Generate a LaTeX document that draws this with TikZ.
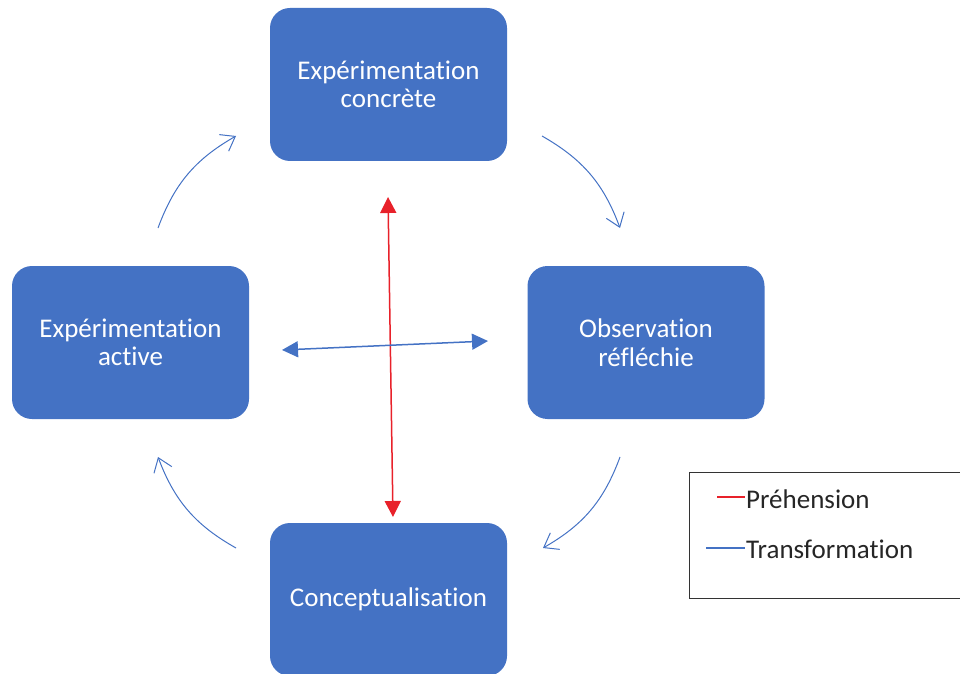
\documentclass[tikz,border=0pt]{standalone}
\usepackage{fontspec}
\setmainfont{Carlito}[Ligatures=NoCommon]
\usetikzlibrary{arrows.meta}

\definecolor{boxblue}{HTML}{4472C4}
\definecolor{prehred}{HTML}{E8212A}

\tikzstyle{stagenode}=[rectangle,
                       rounded corners=20pt,
                       fill=boxblue,
                       text=white,
                       minimum width=237pt,
                       minimum height=153pt,
                       align=center,
                       font=\fontsize{27}{28.5}\selectfont]
\tikzstyle{cyclearrow}=[draw=boxblue,
                        line width=1pt,
                        -{Straight Barb[length=13pt,width=19pt]},
                        bend left=20]
\tikzstyle{crossarrow}=[line width=1.5pt,
                        {Triangle[length=16pt,width=16pt]}-{Triangle[length=16pt,width=16pt]}]
\tikzstyle{legendtext}=[anchor=west,
                        inner sep=1pt,
                        text=black!85,
                        font=\fontsize{27}{28.5}\selectfont]

\begin{document}
\begin{tikzpicture}[x=1pt,y=1pt]
    \useasboundingbox (0,0) rectangle (960,673);

    % the four stages
    \node [stagenode] (concrete) at (388.5,588.5) {Expérimentation\\concrète};
    \node [stagenode] (active) at (130.5,330.5) {Expérimentation\\active};
    \node [stagenode] (reflective) at (646,330.5) {Observation\\réfléchie};
    \node [stagenode] (concept) at (388.5,73.5) {Conceptualisation};

    % cycle
    \coordinate (a1) at (158,445);
    \coordinate (a2) at (236,537);
    \coordinate (b1) at (542,537);
    \coordinate (b2) at (620,445);
    \coordinate (c1) at (620,216);
    \coordinate (c2) at (543,125);
    \coordinate (d1) at (236,125);
    \coordinate (d2) at (158,216);
    \draw [cyclearrow] (a1) to (a2);
    \draw [cyclearrow] (b1) to (b2);
    \draw [cyclearrow] (c1) to (c2);
    \draw [cyclearrow] (d1) to (d2);

    % axes
    \coordinate (prehtop) at (388,476);
    \coordinate (prehbot) at (393,156);
    \coordinate (transleft) at (282,323);
    \coordinate (transright) at (488,332);
    \draw [crossarrow, prehred] (prehtop) -- (prehbot);
    \draw [crossarrow, boxblue] (transleft) -- (transright);

    % legend
    \draw [line width=1pt, black!80] (689,75) rectangle (975,201);
    \node [legendtext] (prehension) at (745,174) {Préhension};
    \node [legendtext] (transformation) at (745,124) {Transformation};
    \coordinate (redstart) at (717,176);
    \coordinate (bluestart) at (706,125);
    \draw [draw=prehred, line width=1.2pt] (redstart) -- (redstart -| prehension.west);
    \draw [draw=boxblue, line width=1.2pt] (bluestart) -- (bluestart -| transformation.west);
\end{tikzpicture}
\end{document}
